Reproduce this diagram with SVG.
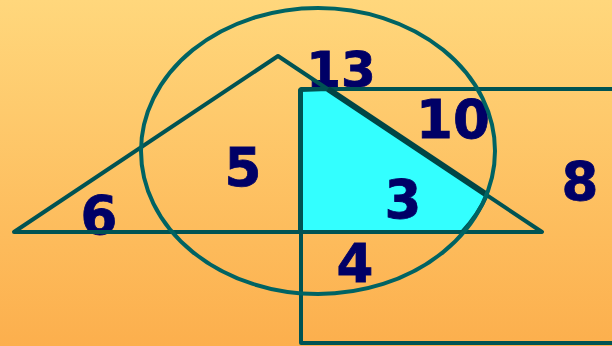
<svg xmlns="http://www.w3.org/2000/svg" width="612" height="346" viewBox="0 0 612 346">
<defs>
<linearGradient id="bg" x1="0" y1="0" x2="0" y2="1">
<stop offset="0" stop-color="#FFD77C"/>
<stop offset="1" stop-color="#FCAF4D"/>
</linearGradient>
</defs>
<style>
.ln{fill:none;stroke:#005353;stroke-width:4;stroke-linecap:round;stroke-linejoin:round}
.el{fill:none;stroke:#006363;stroke-width:4}
.lb{font-family:"DejaVu Sans",Verdana,sans-serif;font-weight:bold;font-size:53px;fill:#000066;stroke:#000066;stroke-width:0.8;text-anchor:middle}
</style>
<rect width="612" height="346" fill="url(#bg)"/>
<g id="region3">
<path d="M300,90 L328,89 L487,195 A177,143 0 0 1 462,232 L300,232 Z" fill="#33FFFF" stroke="#005353" stroke-width="4" stroke-linejoin="round"/>
</g>
<g id="labels">
<text class="lb" x="341" y="87" style="font-size:50px">13</text>
<text class="lb" x="453" y="138">10</text>
<text class="lb" x="243" y="186">5</text>
<text class="lb" x="99" y="234">6</text>
<text class="lb" x="403" y="218">3</text>
<text class="lb" x="580" y="200">8</text>
<text class="lb" x="355" y="282">4</text>
</g>
<g id="rectangle">
<path class="ln" d="M614,89 L301,89 L301,343 L614,343"/>
</g>
<g id="triangle">
<path class="ln" d="M14,232 L278,56 L542,232 Z"/>
<path d="M328,89 L487,195" stroke="#004545" stroke-width="6" fill="none"/>
</g>
<g id="ellipse">
<ellipse class="el" cx="318" cy="151" rx="177" ry="143"/>
</g>
<g id="connectors"></g>
</svg>
